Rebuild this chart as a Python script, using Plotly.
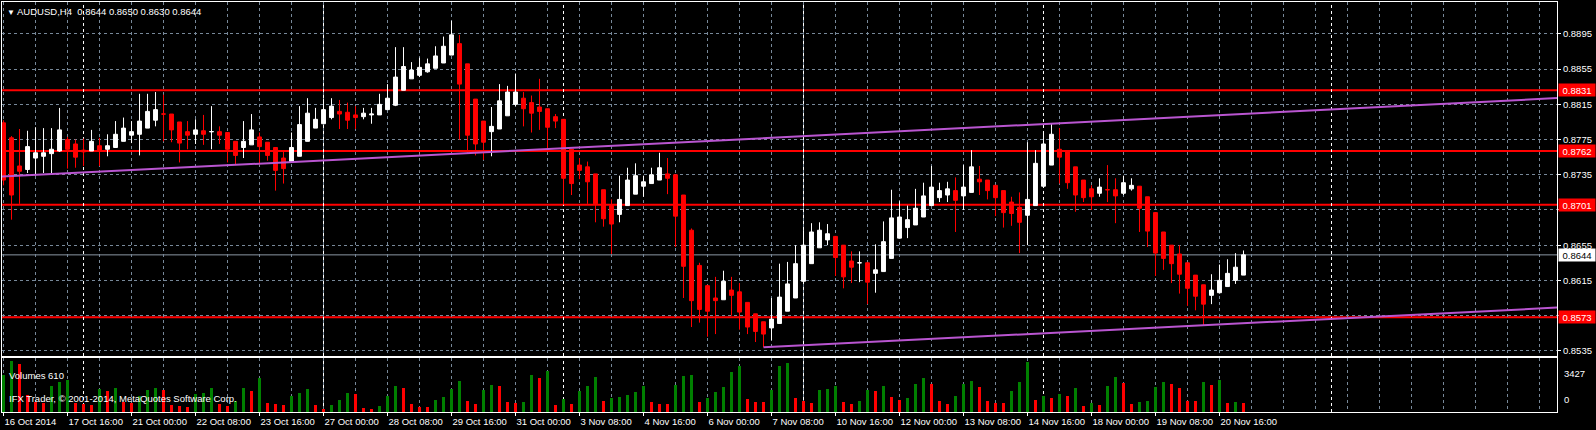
import plotly.graph_objects as go

# ---------------- data ----------------
opens = [0.8794, 0.8777, 0.8745, 0.8741, 0.8754, 0.8756, 0.8759, 0.8762, 0.8775, 0.8770,
         0.8763, 0.8762, 0.8768, 0.8764, 0.8766, 0.8773, 0.8780, 0.8781, 0.8788, 0.8797,
         0.8804, 0.8804, 0.8795, 0.8784, 0.8781, 0.8785, 0.8784, 0.8784, 0.8783, 0.8773,
         0.8766, 0.8769, 0.8778, 0.8772, 0.8766, 0.8754, 0.8750, 0.8756, 0.8773, 0.8788,
         0.8793, 0.8800, 0.8807, 0.8806, 0.8803, 0.8801, 0.8803, 0.8803, 0.8809, 0.8814,
         0.8831, 0.8844, 0.8848, 0.8852, 0.8856, 0.8862, 0.8871, 0.8884, 0.8861, 0.8821,
         0.8796, 0.8784, 0.8787, 0.8802, 0.8815, 0.8822, 0.8817, 0.8812, 0.8810, 0.8801,
         0.8798, 0.8764, 0.8746, 0.8744, 0.8736, 0.8718, 0.8700, 0.8690, 0.8700, 0.8713,
         0.8722, 0.8725, 0.8729, 0.8736, 0.8735, 0.8712, 0.8672, 0.8632, 0.8609, 0.8595,
         0.8593, 0.8604, 0.8602, 0.8590, 0.8577, 0.8568, 0.8561, 0.8566, 0.8580, 0.8595,
         0.8614, 0.8634, 0.8652, 0.8661, 0.8665, 0.8655, 0.8637, 0.8635, 0.8635, 0.8623,
         0.8625, 0.8640, 0.8663, 0.8675, 0.8678, 0.8687, 0.8700, 0.8709, 0.8712, 0.8717,
         0.8711, 0.8715, 0.8730, 0.8729, 0.8723, 0.8717, 0.8704, 0.8698, 0.8689, 0.8700,
         0.8722, 0.8746, 0.8764, 0.8761, 0.8744, 0.8729, 0.8719, 0.8714, 0.8718, 0.8718,
         0.8714, 0.8719, 0.8722, 0.8710, 0.8692, 0.8670, 0.8655, 0.8645, 0.8635, 0.8621,
         0.8610, 0.8598, 0.8601, 0.8608, 0.8615, 0.8621]
highs = [0.8797, 0.8779, 0.8787, 0.8785, 0.8789, 0.8788, 0.8788, 0.8811, 0.8778, 0.8775,
         0.8776, 0.8786, 0.8777, 0.8781, 0.8796, 0.8800, 0.8796, 0.8827, 0.8827, 0.8829,
         0.8826, 0.8804, 0.8795, 0.8796, 0.8798, 0.8803, 0.8813, 0.8790, 0.8783, 0.8773,
         0.8796, 0.8804, 0.8783, 0.8772, 0.8766, 0.8763, 0.8783, 0.8813, 0.8822, 0.8811,
         0.8821, 0.8822, 0.8820, 0.8817, 0.8813, 0.8811, 0.8811, 0.8827, 0.8838, 0.8880,
         0.8880, 0.8863, 0.8868, 0.8867, 0.8881, 0.8892, 0.8910, 0.8894, 0.8861, 0.8821,
         0.8796, 0.8812, 0.8838, 0.8836, 0.8850, 0.8829, 0.8825, 0.8844, 0.8810, 0.8804,
         0.8798, 0.8764, 0.8754, 0.8750, 0.8736, 0.8718, 0.8707, 0.8734, 0.8743, 0.8748,
         0.8734, 0.8743, 0.8760, 0.8754, 0.8735, 0.8712, 0.8674, 0.8635, 0.8610, 0.8619,
         0.8626, 0.8619, 0.8612, 0.8590, 0.8577, 0.8568, 0.8595, 0.8634, 0.8636, 0.8655,
         0.8672, 0.8680, 0.8681, 0.8679, 0.8665, 0.8655, 0.8648, 0.8648, 0.8635, 0.8656,
         0.8682, 0.8718, 0.8705, 0.8700, 0.8719, 0.8726, 0.8745, 0.8726, 0.8727, 0.8732,
         0.8746, 0.8763, 0.8745, 0.8729, 0.8723, 0.8717, 0.8710, 0.8715, 0.8772, 0.8763,
         0.8784, 0.8793, 0.8788, 0.8761, 0.8744, 0.8729, 0.8723, 0.8731, 0.8746, 0.8731,
         0.8734, 0.8731, 0.8722, 0.8710, 0.8692, 0.8670, 0.8655, 0.8655, 0.8635, 0.8621,
         0.8610, 0.8622, 0.8633, 0.8639, 0.8646, 0.8649]
lows = [0.8723, 0.8684, 0.8702, 0.8737, 0.8734, 0.8737, 0.8737, 0.8761, 0.8742, 0.8743,
        0.8745, 0.8762, 0.8745, 0.8756, 0.8766, 0.8773, 0.8771, 0.8757, 0.8788, 0.8790,
        0.8773, 0.8772, 0.8749, 0.8764, 0.8770, 0.8769, 0.8764, 0.8770, 0.8749, 0.8746,
        0.8754, 0.8769, 0.8746, 0.8751, 0.8717, 0.8725, 0.8750, 0.8756, 0.8773, 0.8788,
        0.8793, 0.8798, 0.8787, 0.8787, 0.8787, 0.8798, 0.8793, 0.8803, 0.8809, 0.8813,
        0.8831, 0.8844, 0.8846, 0.8851, 0.8856, 0.8862, 0.8871, 0.8775, 0.8760, 0.8757,
        0.8752, 0.8756, 0.8787, 0.8802, 0.8813, 0.8790, 0.8783, 0.8786, 0.8763, 0.8788,
        0.8701, 0.8712, 0.8730, 0.8702, 0.8681, 0.8676, 0.8645, 0.8681, 0.8700, 0.8713,
        0.8710, 0.8725, 0.8729, 0.8713, 0.8653, 0.8595, 0.8562, 0.8567, 0.8551, 0.8554,
        0.8593, 0.8575, 0.8559, 0.8554, 0.8545, 0.8539, 0.8547, 0.8566, 0.8580, 0.8595,
        0.8614, 0.8634, 0.8652, 0.8655, 0.8620, 0.8606, 0.8612, 0.8613, 0.8588, 0.8601,
        0.8625, 0.8640, 0.8663, 0.8663, 0.8678, 0.8687, 0.8700, 0.8704, 0.8704, 0.8670,
        0.8695, 0.8715, 0.8712, 0.8707, 0.8688, 0.8675, 0.8677, 0.8646, 0.8655, 0.8700,
        0.8722, 0.8746, 0.8725, 0.8719, 0.8693, 0.8704, 0.8695, 0.8710, 0.8704, 0.8680,
        0.8712, 0.8717, 0.8670, 0.8653, 0.8620, 0.8627, 0.8612, 0.8600, 0.8586, 0.8581,
        0.8564, 0.8588, 0.8600, 0.8608, 0.8611, 0.8621]
closes = [0.8729, 0.8712, 0.8739, 0.8767, 0.8760, 0.8760, 0.8764, 0.8786, 0.8764, 0.8755,
          0.8761, 0.8773, 0.8762, 0.8768, 0.8781, 0.8788, 0.8784, 0.8796, 0.8807, 0.8809,
          0.8804, 0.8786, 0.8771, 0.8780, 0.8786, 0.8781, 0.8784, 0.8780, 0.8764, 0.8757,
          0.8773, 0.8786, 0.8767, 0.8757, 0.8740, 0.8742, 0.8766, 0.8792, 0.8805, 0.8798,
          0.8809, 0.8813, 0.8804, 0.8797, 0.8800, 0.8805, 0.8804, 0.8815, 0.8822, 0.8846,
          0.8858, 0.8854, 0.8857, 0.8861, 0.8870, 0.8881, 0.8894, 0.8838, 0.8780, 0.8770,
          0.8772, 0.8790, 0.8819, 0.8829, 0.8829, 0.8810, 0.8805, 0.8807, 0.8789, 0.8796,
          0.8731, 0.8725, 0.8740, 0.8727, 0.8702, 0.8685, 0.8679, 0.8707, 0.8729, 0.8734,
          0.8727, 0.8735, 0.8743, 0.8731, 0.8688, 0.8631, 0.8592, 0.8582, 0.8580, 0.8592,
          0.8614, 0.8598, 0.8579, 0.8562, 0.8557, 0.8554, 0.8571, 0.8596, 0.8611, 0.8634,
          0.8655, 0.8670, 0.8672, 0.8668, 0.8641, 0.8619, 0.8630, 0.8635, 0.8613, 0.8627,
          0.8659, 0.8686, 0.8687, 0.8684, 0.8697, 0.8711, 0.8721, 0.8717, 0.8719, 0.8706,
          0.8721, 0.8744, 0.8727, 0.8717, 0.8709, 0.8692, 0.8691, 0.8681, 0.8707, 0.8748,
          0.8770, 0.8781, 0.8755, 0.8726, 0.8712, 0.8709, 0.8710, 0.8721, 0.8718, 0.8711,
          0.8726, 0.8723, 0.8697, 0.8671, 0.8646, 0.8640, 0.8634, 0.8622, 0.8606, 0.8597,
          0.8588, 0.8604, 0.8615, 0.8623, 0.8630, 0.8644]
volumes = [2472, 3427, 3200, 1158, 700, 600, 1770, 2043, 2180, 600,
           520, 477, 1566, 1430, 1634, 700, 600, 1090, 1498, 1634,
           1498, 477, 400, 350, 1226, 1250, 1634, 520, 409, 749,
           1634, 1430, 2315, 613, 545, 477, 1090, 1294, 1566, 477,
           204, 477, 817, 1294, 1226, 272, 204, 409, 1090, 1771,
           1634, 545, 363, 340, 817, 1022, 1566, 2111, 749, 545,
           1498, 1839, 1771, 681, 613, 681, 2520, 2315, 2724, 477,
           885, 545, 1430, 1771, 2384, 749, 953, 1022, 1158, 1362,
           1771, 681, 545, 522, 1839, 2452, 2520, 681, 953, 1362,
           1703, 2656, 3065, 885, 681, 658, 1498, 3065, 3269, 953,
           749, 613, 1498, 1566, 1771, 681, 545, 749, 1498, 1430,
           1771, 1022, 817, 953, 1907, 2315, 1907, 749, 545, 1090,
           1907, 2111, 1703, 749, 613, 590, 1430, 2043, 3337, 817,
           1090, 953, 1226, 1102, 1584, 413, 620, 482, 1721, 2341,
           1928, 551, 689, 757, 1652, 1997, 1859, 1584, 757, 734,
           1997, 1790, 2134, 620, 689, 610]

time_labels = ["16 Oct 2014", "17 Oct 16:00", "21 Oct 00:00", "22 Oct 08:00", "23 Oct 16:00",
               "27 Oct 00:00", "28 Oct 08:00", "29 Oct 16:00", "31 Oct 00:00", "3 Nov 08:00",
               "4 Nov 16:00", "6 Nov 00:00", "7 Nov 08:00", "10 Nov 16:00", "12 Nov 00:00",
               "13 Nov 08:00", "14 Nov 16:00", "18 Nov 00:00", "19 Nov 08:00", "20 Nov 16:00"]
bars_per_label = 8
week_separators = [10, 40, 70, 100, 130, 166]
price_ticks = [0.8535, 0.8575, 0.8615, 0.8655, 0.8695, 0.8735, 0.8775, 0.8815, 0.8855, 0.8895]
red_levels = [0.8831, 0.8762, 0.8701, 0.8573]
bid_price = 0.8644
upper_trend = [(0, 0.8733), (194, 0.8822)]      # (bar, price) anchors
lower_trend = [(95, 0.8539), (150, 0.8564)]
volume_max = 3427
last_volume = 610
title_text = "AUDUSD,H4  0.8644 0.8650 0.8630 0.8644"

# ---------------- figure ----------------
bars = list(range(len(opens)))
x_range = [-0.19, 194.19]
y_range = [0.85291, 0.89313]
FONT = "Liberation Sans"
GRID = "#778899"
RED = "#FF0000"
GREEN = "#008000"
PURPLE = "#B955D0"

vol_colors = [GREEN if i == 0 or volumes[i] > volumes[i - 1] else RED for i in bars]

fig = go.Figure()
fig.add_trace(go.Candlestick(
    x=bars, open=opens, high=highs, low=lows, close=closes,
    xaxis="x2", yaxis="y",
    increasing=dict(line=dict(color="white", width=1), fillcolor="white"),
    decreasing=dict(line=dict(color=RED, width=1), fillcolor=RED),
    whiskerwidth=0, showlegend=False, hoverinfo="skip"))

def trend_points(anchors, x_start):
    (b1, p1), (b2, p2) = anchors
    slope = (p2 - p1) / (b2 - b1)
    xs = [x_start, x_range[1]]
    return xs, [p1 + slope * (x - b1) for x in xs]

ux, uy = trend_points(upper_trend, x_range[0])
lx, ly = trend_points(lower_trend, lower_trend[0][0])
for xs, ys in [(ux, uy), (lx, ly)]:
    fig.add_trace(go.Scatter(x=xs, y=ys, mode="lines", xaxis="x2", yaxis="y",
                             line=dict(color=PURPLE, width=2), showlegend=False,
                             hoverinfo="skip"))

fig.add_trace(go.Bar(x=bars, y=volumes, xaxis="x", yaxis="y2", width=0.42,
                     marker=dict(color=vol_colors, line=dict(width=0)),
                     showlegend=False, hoverinfo="skip"))

shapes = []
for lvl in red_levels:
    shapes.append(dict(type="line", xref="x2 domain", x0=0, x1=1, yref="y", y0=lvl, y1=lvl,
                       line=dict(color=RED, width=2), layer="below"))
shapes.append(dict(type="line", xref="x2 domain", x0=0, x1=1, yref="y", y0=bid_price, y1=bid_price,
                   line=dict(color="#8A96A3", width=1), layer="below"))
for sep in week_separators:
    for yr in ["y domain", "y2 domain"]:
        shapes.append(dict(type="line", xref="x", x0=sep, x1=sep, yref=yr, y0=0, y1=1,
                           line=dict(color="white", width=1, dash="3px,3px"), layer="below"))

tick_font = dict(family=FONT, size=9.5, color="white")
annotations = []
for lvl in red_levels:
    annotations.append(dict(xref="paper", x=1, xanchor="left", xshift=1, yref="y", y=lvl,
                            text=f"{lvl:.4f}", showarrow=False, bgcolor=RED, font=tick_font,
                            width=34, height=10, borderpad=1, align="center"))
annotations.append(dict(xref="paper", x=1, xanchor="left", xshift=1, yref="y", y=bid_price,
                        text=f"{bid_price:.4f}", showarrow=False, bgcolor="white",
                        font=dict(family=FONT, size=9.5, color="black"),
                        width=34, height=10, borderpad=1, align="center"))
annotations.append(dict(xref="paper", x=1, xanchor="left", xshift=5, yref="y2 domain", y=0.85,
                        text=str(volume_max), showarrow=False, font=tick_font))
annotations.append(dict(xref="paper", x=1, xanchor="left", xshift=5, yref="y2 domain", y=0.09,
                        text="0", showarrow=False, font=tick_font))
annotations.append(dict(xref="paper", x=0, xanchor="left", xshift=5, yref="y2 domain", y=0.82,
                        text=f"Volumes {last_volume}", showarrow=False, font=tick_font))
annotations.append(dict(xref="paper", x=0, xanchor="left", xshift=5, yref="y2 domain", y=0.11,
                        text="IFX Trader, © 2001-2014, MetaQuotes Software Corp.",
                        showarrow=False, font=tick_font))
annotations.append(dict(xref="paper", x=0, xanchor="left", xshift=3, yref="paper", y=1,
                        yanchor="middle", yshift=-9,
                        text="<span style='font-size:8px'>▼</span> " + title_text,
                        showarrow=False, font=tick_font))

# price tick labels that sit under a level label are hidden (the label box covers them)
price_ticktext = ["" if any(abs(p - l) < 0.0009 for l in red_levels + [bid_price]) else f"{p:.4f}"
                  for p in price_ticks]

grid_common = dict(showgrid=True, gridcolor=GRID, griddash="3px,3px", gridwidth=1,
                   zeroline=False, range=x_range, showline=True, mirror=True,
                   linecolor="white", linewidth=1,
                   tickmode="array",
                   tickvals=[i * bars_per_label for i in range(len(time_labels))],
                   minor=dict(dtick=bars_per_label / 2, tick0=0, showgrid=True,
                              gridcolor=GRID, griddash="3px,3px", ticks=""))

fig.update_layout(
    width=1596, height=430,
    margin=dict(l=2, r=39, t=2, b=18),
    paper_bgcolor="black", plot_bgcolor="black",
    showlegend=False, bargap=0,
    xaxis=dict(**grid_common, anchor="y2", domain=[0, 1],
               ticktext=time_labels, ticks="outside", ticklen=3, tickcolor="white",
               ticklabelposition="outside right", tickangle=0, tickfont=tick_font,
               ticklabelstandoff=1, rangeslider=dict(visible=False)),
    xaxis2=dict(**grid_common, anchor="y", matches="x", domain=[0, 1],
                ticktext=time_labels, showticklabels=False, ticks="",
                rangeslider=dict(visible=False)),
    yaxis=dict(domain=[0.1366, 1], anchor="x2", side="right", range=y_range,
               tickmode="array", tickvals=price_ticks, ticktext=price_ticktext,
               showgrid=True, gridcolor=GRID, griddash="3px,3px", zeroline=False,
               showline=True, mirror=True, linecolor="white", linewidth=1,
               ticks="outside", ticklen=3, tickcolor="white", tickfont=tick_font),
    yaxis2=dict(domain=[0, 0.1317], anchor="x", range=[0, volume_max * 54 / 51],
                showgrid=False, zeroline=False, showticklabels=False,
                showline=True, mirror=True, linecolor="white", linewidth=1),
    shapes=shapes, annotations=annotations,
)

fig.write_html("out.html",
               config={"displayModeBar": False},
               post_script="document.body.style.margin='0';document.body.style.padding='0';"
                           "document.body.style.background='black';"
                           "document.body.style.overflow='hidden';")
